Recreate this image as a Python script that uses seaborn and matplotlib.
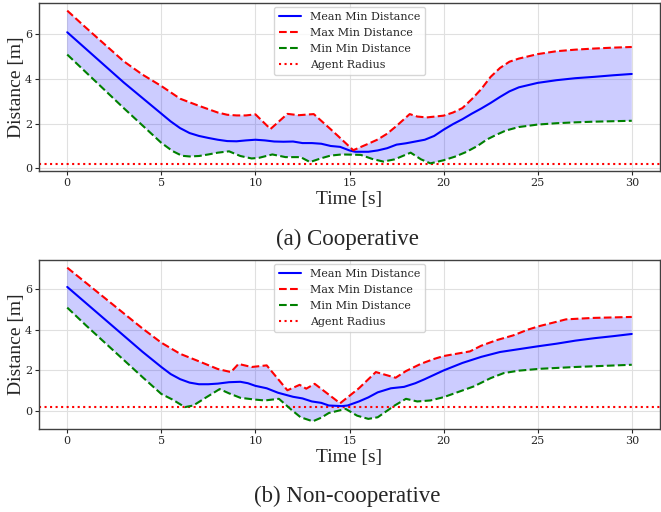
import numpy as np
import matplotlib
matplotlib.use("Agg")
import matplotlib.pyplot as plt
import seaborn as sns

# ---------------- data ----------------
# (a) Cooperative
a_mean_t = [0, 1, 2, 3, 4, 5, 5.5, 6, 6.5, 7, 7.5, 8, 8.5, 9, 9.5, 10, 10.5, 11, 11.5, 12, 12.5, 13, 13.5, 14,
            14.5, 15, 15.3, 16, 16.5, 17, 17.5, 18, 18.5, 19, 19.5, 20, 20.5, 21, 21.5, 22, 22.5, 23, 23.5, 24,
            25, 26, 27, 28, 29, 30]
a_mean = [6.1, 5.35, 4.6, 3.85, 3.15, 2.45, 2.1, 1.8, 1.58, 1.45, 1.36, 1.28, 1.22, 1.21, 1.25, 1.28, 1.25, 1.2,
          1.19, 1.2, 1.13, 1.13, 1.1, 1.0, 0.96, 0.8, 0.74, 0.74, 0.8, 0.9, 1.06, 1.12, 1.2, 1.28, 1.45, 1.73,
          1.98, 2.2, 2.45, 2.68, 2.93, 3.2, 3.45, 3.63, 3.83, 3.95, 4.04, 4.1, 4.17, 4.23]
a_max_t = [0, 1, 2, 3, 4, 5, 6, 7, 8, 8.5, 9, 9.5, 10, 10.8, 11.7, 12.3, 13.1, 14, 14.4, 15.2, 16, 16.5, 17, 17.5,
           18.2, 18.6, 19.1, 20, 20.5, 21, 21.5, 22, 22.5, 23, 23.5, 24, 25, 26, 27, 28, 29, 30]
a_max = [7.07, 6.3, 5.55, 4.8, 4.2, 3.69, 3.12, 2.8, 2.5, 2.4, 2.37, 2.37, 2.42, 1.76, 2.44, 2.38, 2.43, 1.75, 1.44,
         0.81, 1.1, 1.29, 1.55, 1.9, 2.43, 2.32, 2.28, 2.36, 2.5, 2.7, 3.1, 3.55, 4.1, 4.5, 4.78, 4.92, 5.12, 5.25,
         5.32, 5.37, 5.41, 5.44]
a_min_t = [0, 1, 2, 3, 4, 5, 5.6, 6.1, 6.5, 7, 7.5, 8, 8.6, 9.2, 9.8, 10.2, 10.9, 11.6, 12.4, 12.9, 13.5, 14, 14.6,
           15.6, 16.2, 16.8, 17.4, 18.25, 18.8, 19.3, 20, 20.6, 21.2, 21.8, 22.3, 22.8, 23.3, 24, 25, 26, 27, 28, 30]
a_min = [5.1, 4.3, 3.5, 2.7, 1.92, 1.14, 0.77, 0.56, 0.53, 0.55, 0.62, 0.7, 0.76, 0.55, 0.44, 0.47, 0.62, 0.5, 0.5,
         0.28, 0.45, 0.57, 0.62, 0.6, 0.42, 0.3, 0.4, 0.7, 0.4, 0.22, 0.36, 0.52, 0.73, 1.0, 1.29, 1.5, 1.69, 1.85,
         1.96, 2.02, 2.06, 2.09, 2.13]

# (b) Non-cooperative
b_mean_t = [0, 1, 2, 3, 4, 5, 5.5, 6, 6.5, 7, 7.5, 8, 8.6, 9.2, 9.6, 10, 10.6, 11.2, 12, 12.5, 13, 13.5, 13.9, 14.6,
            14.9, 15.5, 16, 16.5, 17.2, 17.9, 18.5, 19, 20, 21, 22, 23, 24, 25, 26, 27, 28, 29, 30]
b_mean = [6.1, 5.3, 4.5, 3.7, 2.9, 2.15, 1.8, 1.55, 1.38, 1.3, 1.3, 1.33, 1.4, 1.42, 1.35, 1.22, 1.1, 0.88, 0.68,
          0.6, 0.45, 0.38, 0.25, 0.22, 0.25, 0.45, 0.65, 0.9, 1.1, 1.17, 1.35, 1.55, 1.98, 2.35, 2.65, 2.89, 3.03,
          3.17, 3.3, 3.45, 3.57, 3.67, 3.78]
b_max_t = [0, 1, 2, 3, 4, 5, 6, 7, 8, 8.7, 9.1, 9.8, 10.6, 11.7, 12.35, 12.7, 13.15, 14.5, 15.5, 16.4, 17.45, 18,
           18.8, 19.5, 20, 21.4, 22, 22.8, 23.7, 24.5, 25.1, 26, 26.5, 27.9, 30]
b_max = [7.05, 6.3, 5.55, 4.8, 4.05, 3.35, 2.8, 2.43, 2.05, 1.9, 2.3, 2.15, 2.23, 1.0, 1.27, 1.08, 1.32, 0.36, 1.1,
         1.9, 1.62, 1.95, 2.31, 2.55, 2.69, 2.92, 3.2, 3.47, 3.71, 4.0, 4.17, 4.38, 4.5, 4.57, 4.62]
b_min_t = [0, 1, 2, 3, 4, 5, 5.6, 6.25, 6.7, 7.4, 8.1, 8.6, 9.2, 10, 10.5, 11.25, 11.9, 12.4, 13.05, 13.5, 13.9,
           14.8, 15.4, 16, 16.5, 17.4, 18, 18.6, 19.3, 20, 21.6, 22.5, 23.2, 24, 25.1, 27, 30]
b_min = [5.08, 4.2, 3.35, 2.5, 1.65, 0.82, 0.54, 0.17, 0.25, 0.66, 1.06, 0.85, 0.63, 0.54, 0.5, 0.58, 0.05, -0.33,
         -0.53, -0.35, -0.12, 0.08, -0.25, -0.41, -0.33, 0.25, 0.58, 0.45, 0.5, 0.66, 1.19, 1.6, 1.85, 1.97, 2.06,
         2.15, 2.26]

agent_radius = 0.2
captions = ["(a) Cooperative", "(b) Non-cooperative"]
series_labels = ["Mean Min Distance", "Max Min Distance", "Min Min Distance", "Agent Radius"]
x_label = "Time [s]"
y_label = "Distance [m]"

# ---------------- style ----------------
sns.set_style("whitegrid", {
    "axes.edgecolor": "0.25",
    "grid.color": "0.88",
    "xtick.bottom": True,
    "ytick.left": True,
    "xtick.color": "0.15",
    "ytick.color": "0.15",
})
plt.rcParams["font.family"] = ["DejaVu Serif"]
plt.rcParams["xtick.labelsize"] = 8
plt.rcParams["ytick.labelsize"] = 8
plt.rcParams["xtick.major.size"] = 3
plt.rcParams["ytick.major.size"] = 3
plt.rcParams["axes.linewidth"] = 1.0

fig = plt.figure(figsize=(6.61, 5.12), dpi=100)
W, H = 661.0, 512.0
ax_a = fig.add_axes([39 / W, 1 - 171 / H, 621 / W, 168 / H])
ax_b = fig.add_axes([39 / W, 1 - 429 / H, 621 / W, 169 / H])

datasets = [
    (ax_a, a_mean_t, a_mean, a_max_t, a_max, a_min_t, a_min),
    (ax_b, b_mean_t, b_mean, b_max_t, b_max, b_min_t, b_min),
]

for ax, mt, mv, xt, xv, nt, nv in datasets:
    ax.fill(np.concatenate([xt, nt[::-1]]), np.concatenate([xv, nv[::-1]]),
            color="blue", alpha=0.2, linewidth=0, zorder=1)
    sns.lineplot(x=mt, y=mv, ax=ax, color="blue", lw=1.5, label=series_labels[0], zorder=3)
    sns.lineplot(x=xt, y=xv, ax=ax, color="red", lw=1.5, ls=(0, (3.7, 1.6)), label=series_labels[1], zorder=3)
    sns.lineplot(x=nt, y=nv, ax=ax, color="green", lw=1.5, ls=(0, (3.7, 1.6)), label=series_labels[2], zorder=3)
    ax.axhline(agent_radius, color="red", lw=1.5, ls=":", label=series_labels[3], zorder=2)
    ax.set_xticks([0, 5, 10, 15, 20, 25, 30])
    ax.set_yticks([0, 2, 4, 6])
    ax.set_xlabel(x_label, fontsize=14, family="Liberation Serif", labelpad=2)
    ax.set_ylabel(y_label, fontsize=14, family="Liberation Serif", labelpad=0)
    ax.tick_params(axis="both", pad=2)
    ax.legend(loc="upper center", fontsize=8, frameon=True, framealpha=0.8, edgecolor="0.8",
              handlelength=2.0, borderpad=0.45, labelspacing=0.55, borderaxespad=0.35)
    ax.grid(True, color="0.88", lw=0.8)

fig.text(347 / W, 1 - 239 / H, captions[0], ha="center", va="center", fontsize=16.5, family="Liberation Serif")
fig.text(347 / W, 1 - 496 / H, captions[1], ha="center", va="center", fontsize=16.5, family="Liberation Serif")

fig.savefig("out.png", dpi=100)
